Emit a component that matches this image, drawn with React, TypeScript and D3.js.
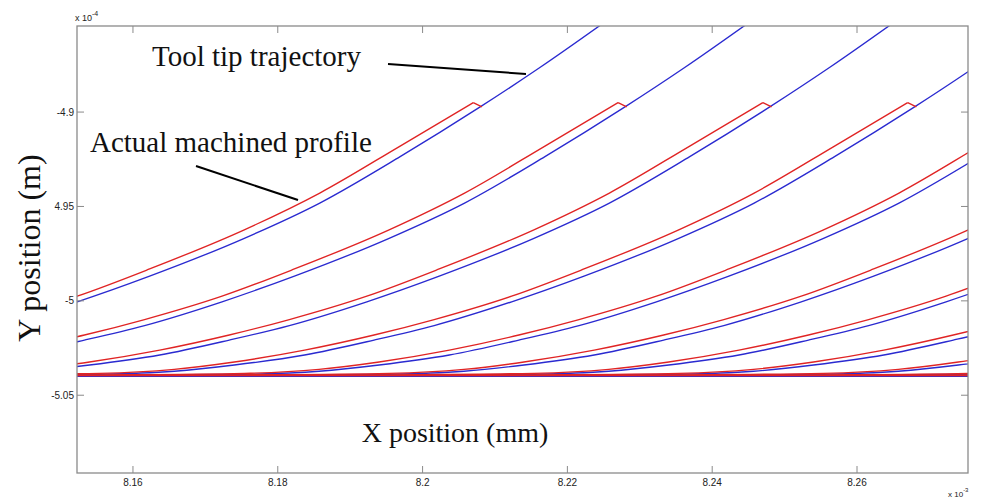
import React from 'react';
import * as d3 from 'd3';

// Axis ticks
const X_TICKS = [8.16, 8.18, 8.2, 8.22, 8.24, 8.26];
const X_TICK_LABELS = ['8.16', '8.18', '8.2', '8.22', '8.24', '8.26'];
const Y_TICKS = [-4.9, -4.95, -5, -5.05];
const Y_TICK_LABELS = ['-4.9', '4.95', '-5', '-5.05'];

// Position of each tooth pass (x of the profile peak, x10^-3 mm)
const TOOTH_X = [
  8.207, 8.227, 8.247, 8.267, 8.287, 8.307, 8.327, 8.347, 8.367, 8.387, 8.407, 8.427, 8.447,
];

// Tool tip trajectory of one pass, x relative to the tooth position
const TRAJ_DX = [
  -0.2173, -0.1717, -0.1518, -0.1318, -0.1116, -0.1013, -0.093, -0.0833, -0.0737,
  -0.0654, -0.0547, -0.0447, -0.0317, -0.0212, -0.0101, 0.0009, 0.0092, 0.0189,
];
const TRAJ_Y = [
  -5.04, -5.04, -5.0398, -5.0396, -5.0389, -5.0373, -5.034, -5.0287, -5.0208,
  -5.0131, -5.0005, -4.9869, -4.967, -4.9482, -4.9236, -4.8974, -4.8764, -4.8503,
];

// Actual machined profile of one pass (ends at the peak, then a short tail to the trajectory)
const PROFILE_DX = [
  -0.2173, -0.1717, -0.1518, -0.1318, -0.1116, -0.1013, -0.093, -0.0833, -0.0737,
  -0.0654, -0.0547, -0.0447, -0.0317, -0.0212, -0.0101, 0.0,
];
const PROFILE_Y = [
  -5.0396, -5.0396, -5.0395, -5.0392, -5.0384, -5.0363, -5.0324, -5.0261, -5.0181,
  -5.0099, -4.9975, -4.9831, -4.9625, -4.9429, -4.918, -4.895,
];
const TAIL_DX = [0.0, 0.0012];
const TAIL_Y = [-4.895, -4.8972];

const W = 989;
const H = 500;
const L = 77, R = 968, T = 26, B = 473;

export default function App() {
  const x = d3.scaleLinear().domain([8.15227, 8.27533]).range([L, R]);
  const y = d3.scaleLinear().domain([-5.0912, -4.8544]).range([B, T]);

  const smooth = d3
    .line<[number, number]>()
    .x((d) => x(d[0]))
    .y((d) => y(d[1]))
    .curve(d3.curveMonotoneX);
  const straight = d3
    .line<[number, number]>()
    .x((d) => x(d[0]))
    .y((d) => y(d[1]));

  const blue = '#2a2ad0';
  const red = '#e02424';
  const axisColor = '#8a8a8a';
  const tickLen = 7;
  const serif = "'Liberation Serif', 'Times New Roman', serif";

  return (
    <svg
      width={W}
      height={H}
      style={{ position: 'absolute', left: 0, top: 0, background: '#fff' }}
      xmlns="http://www.w3.org/2000/svg"
    >
      <defs>
        <clipPath id="plotClip">
          <rect x={L} y={T} width={R - L} height={B - T} />
        </clipPath>
      </defs>
      <rect x={0} y={0} width={W} height={H} fill="#fff" />

      <g clipPath="url(#plotClip)" fill="none" strokeLinejoin="round">
        {TOOTH_X.map((tx, i) => {
          const traj = TRAJ_DX.map((dx, j) => [tx + dx, TRAJ_Y[j]] as [number, number]);
          const prof = PROFILE_DX.map((dx, j) => [tx + dx, PROFILE_Y[j]] as [number, number]);
          const tail = TAIL_DX.map((dx, j) => [tx + dx, TAIL_Y[j]] as [number, number]);
          return (
            <g key={i}>
              <path d={smooth(traj) || ''} stroke={blue} strokeWidth={1.35} />
              <path d={smooth(prof) || ''} stroke={red} strokeWidth={1.35} />
              <path d={straight(tail) || ''} stroke={red} strokeWidth={1.35} />
            </g>
          );
        })}
      </g>

      {/* axes box */}
      <rect x={L} y={T} width={R - L} height={B - T} fill="none" stroke={axisColor} strokeWidth={1.3} />
      {X_TICKS.map((v, i) => (
        <g key={'xt' + i}>
          <line x1={x(v)} x2={x(v)} y1={B} y2={B - tickLen} stroke={axisColor} strokeWidth={1} />
          <line x1={x(v)} x2={x(v)} y1={T} y2={T + tickLen} stroke={axisColor} strokeWidth={1} />
          <text
            x={x(v)}
            y={B + 13}
            textAnchor="middle"
            fontFamily="'Liberation Sans Narrow', 'Liberation Sans', Arial, sans-serif"
            fontSize={10}
            fill="#222"
          >
            {X_TICK_LABELS[i]}
          </text>
        </g>
      ))}
      {Y_TICKS.map((v, i) => (
        <g key={'yt' + i}>
          <line x1={L} x2={L + tickLen} y1={y(v)} y2={y(v)} stroke={axisColor} strokeWidth={1} />
          <line x1={R} x2={R - tickLen} y1={y(v)} y2={y(v)} stroke={axisColor} strokeWidth={1} />
          <text
            x={L - 3}
            y={y(v) + 3.5}
            textAnchor="end"
            fontFamily="'Liberation Sans', Arial, sans-serif"
            fontSize={10}
            fill="#222"
          >
            {Y_TICK_LABELS[i]}
          </text>
        </g>
      ))}

      {/* exponent labels */}
      <text x={75} y={21} fontFamily="'Liberation Sans', Arial, sans-serif" fontSize={9} fill="#222">
        x 10
        <tspan dy={-5} fontSize={7}>-4</tspan>
      </text>
      <text x={948} y={497} fontFamily="'Liberation Sans Narrow', 'Liberation Sans', Arial, sans-serif" fontSize={8} fill="#222">
        x 10
        <tspan dy={-5} fontSize={6}>-3</tspan>
      </text>

      {/* axis titles */}
      <text x={455} y={442} textAnchor="middle" fontFamily={serif} fontSize={28} fill="#111">
        X position (mm)
      </text>
      <text
        transform="translate(40,248) rotate(-90)"
        textAnchor="middle"
        fontFamily={serif}
        fontSize={32}
        fill="#111"
      >
        Y position (m)
      </text>

      {/* annotations */}
      <text x={152} y={66} fontFamily={serif} fontSize={29} fill="#111">
        Tool tip trajectory
      </text>
      <line x1={388} y1={64} x2={526} y2={74} stroke="#000" strokeWidth={2} />
      <text x={90} y={152} fontFamily={serif} fontSize={29} fill="#111">
        Actual machined profile
      </text>
      <line x1={196} y1={166} x2={298} y2={200} stroke="#000" strokeWidth={2} />
    </svg>
  );
}
